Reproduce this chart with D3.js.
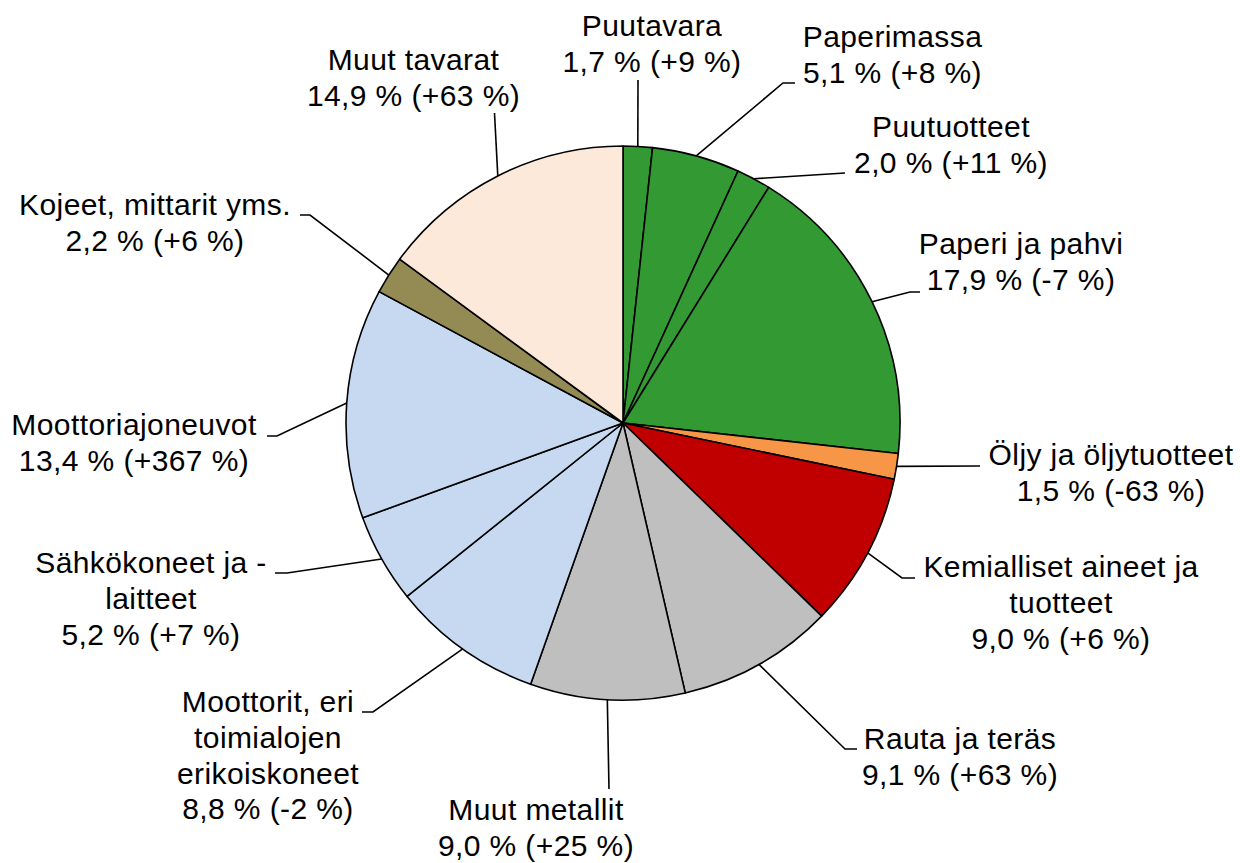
<!DOCTYPE html>
<html>
<head>
<meta charset="utf-8">
<script src="https://cdn.jsdelivr.net/npm/d3@7"></script>
<style>
  body { margin: 0; background: #ffffff; }
  svg { display: block; }
</style>
</head>
<body>
<svg id="chart" width="1240" height="863"></svg>
<script>
// Export shares by product group, with change from previous year
const categories = [
  "Puutavara", "Paperimassa", "Puutuotteet", "Paperi ja pahvi",
  "Öljy ja öljytuotteet", "Kemialliset aineet ja tuotteet",
  "Rauta ja teräs", "Muut metallit",
  "Moottorit, eri toimialojen erikoiskoneet", "Sähkökoneet ja -laitteet",
  "Moottoriajoneuvot", "Kojeet, mittarit yms.", "Muut tavarat"
];
const shares  = [1.7, 5.1, 2.0, 17.9, 1.5, 9.0, 9.1, 9.0, 8.8, 5.2, 13.4, 2.2, 14.9];
const changes = [9, 8, 11, -7, -63, 6, 63, 25, -2, 7, 367, 6, 63];

// Wrapped category names as shown in the labels
const nameLines = [
  ["Puutavara"], ["Paperimassa"], ["Puutuotteet"], ["Paperi ja pahvi"],
  ["Öljy ja öljytuotteet"], ["Kemialliset aineet ja", "tuotteet"],
  ["Rauta ja teräs"], ["Muut metallit"],
  ["Moottorit, eri", "toimialojen", "erikoiskoneet"],
  ["Sähkökoneet ja -", "laitteet"],
  ["Moottoriajoneuvot"], ["Kojeet, mittarit yms."], ["Muut tavarat"]
];

const colors = [
  "#339933", "#339933", "#339933", "#339933",
  "#F79646", "#C00000", "#BFBFBF", "#BFBFBF",
  "#C6D9F1", "#C6D9F1", "#C6D9F1", "#948A54", "#FDE9D9"
];

// Label placement: text centre x, first baseline y, and leader-line bend points
const labelLayout = [
  { x: 652,   y: 36,  leader: [[638, 80]] },
  { x: 892.5, y: 47,  leader: [[783, 83], [795, 83]] },
  { x: 951,   y: 137, leader: [[845, 173]] },
  { x: 1021,  y: 254, leader: [[910, 292], [920, 292]] },
  { x: 1111,  y: 465, leader: [[980, 466]] },
  { x: 1061,  y: 577, leader: [[902, 578], [915, 578]] },
  { x: 960,   y: 749, leader: [[845, 749], [857, 749]] },
  { x: 536,   y: 820, leader: [[609, 789]] },
  { x: 268,   y: 712, leader: [[373, 712], [362, 712]] },
  { x: 151,   y: 573, leader: [[287, 573], [275, 573]] },
  { x: 134,   y: 435, leader: [[277, 436], [267, 436]] },
  { x: 155,   y: 215, leader: [[310, 215], [300, 215]] },
  { x: 413.5, y: 70,  leader: [[494.5, 113]] }
];

const cx = 623, cy = 423, radius = 277;
const lineHeight = 35.8;

const svg = d3.select("#chart");
const g = svg.append("g").attr("transform", `translate(${cx},${cy})`);

const pie = d3.pie().sort(null).value(d => d).startAngle(0).endAngle(2 * Math.PI);
const arcs = pie(shares);
const arc = d3.arc().innerRadius(0).outerRadius(radius);

g.selectAll("path.slice")
  .data(arcs)
  .join("path")
  .attr("class", "slice")
  .attr("d", arc)
  .attr("fill", (d, i) => colors[i])
  .attr("stroke", "#000")
  .attr("stroke-width", 1.6)
  .attr("stroke-linejoin", "round");

const fmtShare = v => v.toFixed(1).replace(".", ",");
const fmtChange = v => (v > 0 ? "+" : "") + v;

// Leader lines: from slice mid-angle on the rim to the label
const line = d3.line();
svg.selectAll("path.leader")
  .data(arcs)
  .join("path")
  .attr("class", "leader")
  .attr("d", (d, i) => {
    const a = (d.startAngle + d.endAngle) / 2;
    const start = [cx + radius * Math.sin(a), cy - radius * Math.cos(a)];
    return line([start, ...labelLayout[i].leader]);
  })
  .attr("fill", "none")
  .attr("stroke", "#000")
  .attr("stroke-width", 1.6);

// Labels
const labels = svg.selectAll("text.label")
  .data(arcs)
  .join("text")
  .attr("class", "label")
  .attr("text-anchor", "middle")
  .attr("font-family", "'Liberation Sans', Arial, sans-serif")
  .attr("font-size", 30)
  .attr("letter-spacing", 0.4)
  .attr("fill", "#000");

labels.each(function (d, i) {
  const t = d3.select(this);
  const lay = labelLayout[i];
  const lines = nameLines[i].concat([`${fmtShare(shares[i])} % (${fmtChange(changes[i])} %)`]);
  lines.forEach((txt, k) => {
    t.append("tspan")
      .attr("x", lay.x)
      .attr("y", lay.y + k * lineHeight)
      .text(txt);
  });
});
</script>
</body>
</html>
